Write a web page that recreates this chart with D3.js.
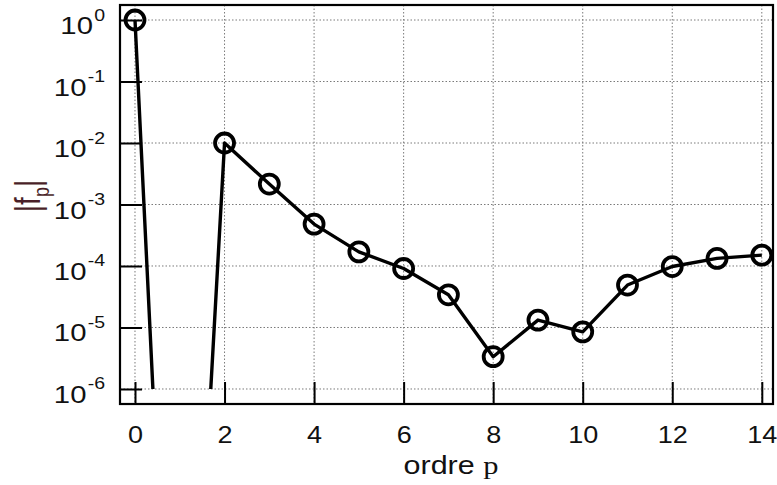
<!DOCTYPE html>
<html>
<head>
<meta charset="utf-8">
<script src="https://cdn.jsdelivr.net/npm/d3@7"></script>
<style>
  html, body { margin: 0; padding: 0; background: #fff; }
  svg { display: block; }
</style>
</head>
<body>
<svg id="chart" width="777" height="485"></svg>
<script>
// ---- data ----
const orders = [0, 1, 2, 3, 4, 5, 6, 7, 8, 9, 10, 11, 12, 13, 14];
const fp = [1, 1e-15, 1e-2, 2.15e-3, 4.8e-4, 1.7e-4, 9.1e-5, 3.4e-5, 3.35e-6, 1.32e-5, 8.5e-6, 4.9e-5, 9.8e-5, 1.33e-4, 1.5e-4];
const xTicks = [0, 2, 4, 6, 8, 10, 12, 14];
const yTickExp = [0, -1, -2, -3, -4, -5, -6];
const xLabel = "ordre";
const xLabelVar = "p";

// ---- layout ----
const svg = d3.select("#chart");
const L = 120, R = 773, T = 5, B = 404;
const SX = 1.22; // horizontal text stretch of the original figure
const SXT = 1.15;

const x = d3.scaleLinear().domain([-0.335, 14.25]).range([L, R]);
const y = d3.scaleLog().domain([Math.pow(10, -6.244), Math.pow(10, 0.244)]).range([B, T]);
const yTicks = yTickExp.map(e => Math.pow(10, e));

// grid
const grid = svg.append("g").attr("stroke", "#7a7a7a").attr("stroke-width", 1)
  .attr("stroke-dasharray", "1.5,2");
grid.selectAll("line.v").data(xTicks).join("line")
  .attr("x1", d => x(d)).attr("x2", d => x(d)).attr("y1", T).attr("y2", B);
grid.selectAll("line.h").data(yTicks).join("line")
  .attr("y1", d => y(d)).attr("y2", d => y(d)).attr("x1", L).attr("x2", R);

// clip region (data clipped at 1e-6)
svg.append("clipPath").attr("id", "clip").append("rect")
  .attr("x", L).attr("y", T).attr("width", R - L).attr("height", y(1e-6) - T);

const plot = svg.append("g").attr("clip-path", "url(#clip)");
const line = d3.line().x((d, i) => x(orders[i])).y(d => y(d));
plot.append("path").datum(fp).attr("d", line)
  .attr("fill", "none").attr("stroke", "#000").attr("stroke-width", 3.4)
  .attr("stroke-linejoin", "round");
plot.selectAll("circle").data(fp).join("circle")
  .attr("cx", (d, i) => x(orders[i])).attr("cy", d => y(d)).attr("r", 9.5)
  .attr("fill", "none").attr("stroke", "#000").attr("stroke-width", 3.8);

// axes
const xAxis = d3.axisBottom(x).tickValues(xTicks).tickSize(-22).tickSizeOuter(0).tickFormat(d3.format("d"));
const gx = svg.append("g").attr("transform", `translate(0,${B})`).call(xAxis);
gx.select(".domain").remove();
gx.selectAll(".tick line").attr("stroke", "#000").attr("stroke-width", 2);
gx.selectAll(".tick text")
  .attr("y", 39).attr("dy", null)
  .attr("transform", `scale(${SXT},1)`)
  .attr("font-family", "'Liberation Sans', Arial, sans-serif")
  .attr("font-size", 23.5).attr("fill", "#111");

const yAxis = d3.axisLeft(y).tickValues(yTicks).tickSize(-22).tickSizeOuter(0).tickFormat(() => "");
const gy = svg.append("g").attr("transform", `translate(${L},0)`).call(yAxis);
gy.select(".domain").remove();
gy.selectAll(".tick line").attr("stroke", "#000").attr("stroke-width", 2);
gy.selectAll(".tick text").each(function(d) {
  const t = d3.select(this);
  const e = Math.round(Math.log10(d));
  t.text(null)
    .attr("x", -15 / SX).attr("dy", null).attr("y", 13.5)
    .attr("transform", `scale(${SX},1)`)
    .attr("text-anchor", "end")
    .attr("font-family", "'Liberation Sans', Arial, sans-serif")
    .attr("font-size", 24).attr("fill", "#111");
  t.append("tspan").text("10");
  t.append("tspan").attr("dy", -13.5).attr("font-size", 16).attr("dx", 1).text(String(e));
});

// frame
svg.append("rect").attr("x", L).attr("y", T).attr("width", R - L).attr("height", B - T)
  .attr("fill", "none").attr("stroke", "#000").attr("stroke-width", 2.2);

// x label
const xl = svg.append("text")
  .attr("transform", `translate(451,474) scale(${SX},1)`)
  .attr("text-anchor", "middle")
  .attr("font-family", "'Liberation Sans', Arial, sans-serif")
  .attr("font-size", 25).attr("fill", "#111");
xl.append("tspan").text(xLabel + " ");
xl.append("tspan").attr("font-family", "'Liberation Serif', 'Times New Roman', serif").text(xLabelVar);

// y label |f_p|
const yl = svg.append("text")
  .attr("transform", `translate(40,196) scale(${SX},1) rotate(-90)`)
  .attr("text-anchor", "middle")
  .attr("font-family", "'Liberation Sans', Arial, sans-serif")
  .attr("font-size", 28).attr("fill", "#4a1f28");
yl.append("tspan").text("|f");
yl.append("tspan").attr("font-size", 18).attr("dy", 7).text("p");
yl.append("tspan").attr("dy", -7).text("|");
</script>
</body>
</html>
